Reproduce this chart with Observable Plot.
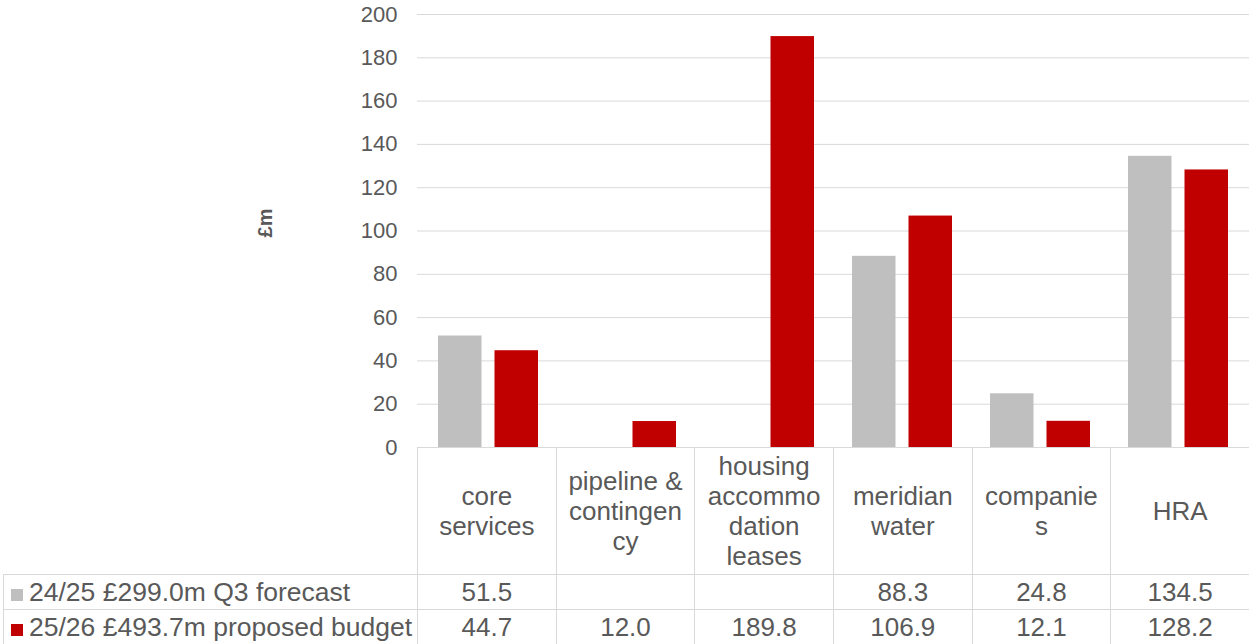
<!DOCTYPE html>
<html><head><meta charset="utf-8">
<script src="https://cdn.jsdelivr.net/npm/d3@7"></script>
<script src="https://cdn.jsdelivr.net/npm/@observablehq/plot@0.6"></script>
<style>
body{margin:0;background:#fff;font-family:"Liberation Sans",Arial,sans-serif;color:#595959}
#wrap{position:relative;width:1249px;height:644px;overflow:hidden;background:#fff}
#chart{position:absolute;left:0;top:0}
#ylabel{position:absolute;left:265px;top:223px;transform:translate(-50%,-50%) rotate(-90deg);font-weight:bold;font-size:20px;white-space:nowrap}
table{position:absolute;left:3px;top:447px;border-collapse:collapse;table-layout:fixed;width:1246px}
td{border:1px solid #d9d9d9;text-align:center;font-size:26px;padding:0;line-height:1;color:#595959}
td.corner{border:none}
td.head{height:127px;padding:0 9px;line-height:30px;overflow-wrap:anywhere;border-top:none;vertical-align:middle}
td.val{height:34px}
td.lab{text-align:left;padding-left:7px;white-space:nowrap;font-size:26.5px}
.sw{display:inline-block;width:12px;height:12px;margin-right:6px;vertical-align:0px}
</style>
</head><body>
<div id="wrap"><div id="chart"></div><div id="ylabel"></div></div>
<script>
const categories = ["core services", "pipeline & contingency", "housing accommodation leases", "meridian water", "companies", "HRA"];
const seriesNames = ["24/25 £299.0m Q3 forecast", "25/26 £493.7m proposed budget"];
const seriesColors = ["#bfbfbf", "#c00000"];
const forecast2425 = [51.5, null, null, 88.3, 24.8, 134.5];
const budget2526 = [44.7, 12.0, 189.8, 106.9, 12.1, 128.2];
const yTicks = [0, 20, 40, 60, 80, 100, 120, 140, 160, 180, 200];
const yLabel = "£m";

const seriesValues = [forecast2425, budget2526];
const rows = vals => categories.map((c, i) => ({category: c, value: vals[i]})).filter(d => d.value != null);

const chart = Plot.plot({
  width: 1249, height: 450,
  marginLeft: 417, marginRight: 0, marginTop: 14, marginBottom: 3,
  style: {fontFamily: "Liberation Sans, Arial, sans-serif", fontSize: "22px", color: "#595959", background: "transparent", overflow: "visible"},
  x: {domain: categories, padding: 0, axis: null},
  y: {domain: [0, 200], ticks: yTicks, tickSize: 0, tickPadding: 20, label: null},
  marks: [
    Plot.ruleY(yTicks, {stroke: "#d9d9d9", strokeWidth: 1}),
    Plot.barY(rows(forecast2425), {x: "category", y: "value", fill: seriesColors[0], insetLeft: 19, insetRight: 75.5}),
    Plot.barY(rows(budget2526), {x: "category", y: "value", fill: seriesColors[1], insetLeft: 75.5, insetRight: 19})
  ]
});
document.getElementById("chart").appendChild(chart);
document.getElementById("ylabel").textContent = yLabel;

// data table
const table = document.createElement("table");
const cg = document.createElement("colgroup");
const c0 = document.createElement("col"); c0.style.width = "414px"; cg.appendChild(c0);
categories.forEach(() => { const c = document.createElement("col"); c.style.width = (832 / 6) + "px"; cg.appendChild(c); });
table.appendChild(cg);
const hr = document.createElement("tr");
const corner = document.createElement("td"); corner.className = "corner"; hr.appendChild(corner);
categories.forEach(c => { const td = document.createElement("td"); td.className = "head"; td.textContent = c; hr.appendChild(td); });
table.appendChild(hr);
seriesNames.forEach((name, si) => {
  const tr = document.createElement("tr");
  const lab = document.createElement("td"); lab.className = "val lab";
  const sw = document.createElement("span"); sw.className = "sw"; sw.style.background = seriesColors[si];
  lab.appendChild(sw); lab.appendChild(document.createTextNode(name));
  tr.appendChild(lab);
  seriesValues[si].forEach(v => { const td = document.createElement("td"); td.className = "val"; td.textContent = v == null ? "" : v.toFixed(1); tr.appendChild(td); });
  table.appendChild(tr);
});
document.getElementById("wrap").appendChild(table);
</script>
</body></html>
